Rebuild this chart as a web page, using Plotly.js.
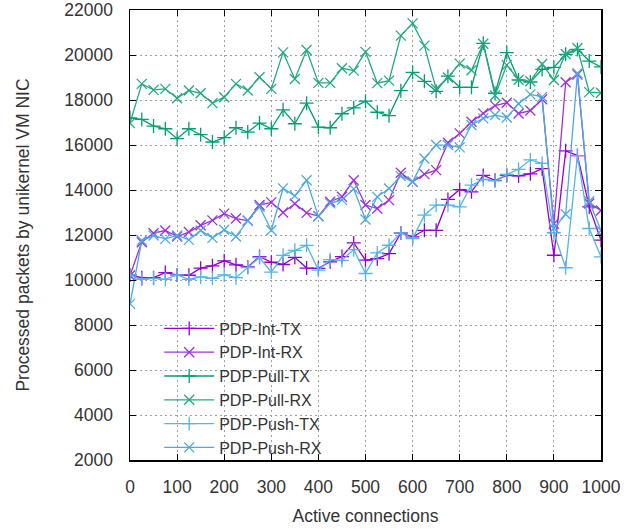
<!DOCTYPE html>
<html>
<head>
<meta charset="utf-8">
<script src="https://cdn.plot.ly/plotly-3.0.1.min.js"></script>
<style>html,body{margin:0;padding:0;background:#fff;}#chart{width:635px;height:529px;}</style>
</head>
<body>
<div id="chart"></div>
<script>
// Active connections (0..1000 step 25)
const connections = [0,25,50,75,100,125,150,175,200,225,250,275,300,325,350,375,400,425,450,475,500,525,550,575,600,625,650,675,700,725,750,775,800,825,850,875,900,925,950,975,1000];

const intTX = [10225,10105,10105,10330,10225,10210,10525,10630,10854,10674,10580,11040,10790,10690,11010,10530,10520,10810,11040,11650,10880,10950,11170,12090,11920,12210,12210,13580,14020,13920,14650,14430,14650,14630,14720,14950,11100,15740,15530,13250,11770];
const intRX = [10200,11680,12080,12200,11930,12130,12430,12650,12950,12730,12640,13330,13450,13000,13390,12985,12840,13480,13700,14430,13330,13177,13550,14765,14364,14706,14884,16100,16516,17035,17406,17750,17880,17400,17530,18030,12500,18786,19127,13400,13090];
const pullTX = [17210,17136,16840,16723,16280,16723,16458,16133,16325,16767,16575,16974,16723,17565,16945,17860,16797,16767,17388,17653,17950,17455,17304,18415,19230,18830,18386,19060,18565,18565,20518,18300,20110,18890,18800,19360,19450,20030,20250,19730,19470];
const pullRX = [16974,18716,18450,18495,18080,18420,18300,17860,18125,18716,18420,19010,18495,20118,18937,20220,18760,18760,19410,19306,20140,18750,18860,20860,21407,20415,18489,19000,19615,19320,20500,18200,19550,18900,18830,19600,18890,20044,20300,18350,18320];
const pushTX = [10225,10030,10075,10030,10225,10030,10135,10075,10225,10105,10555,11000,10352,11098,11320,11543,10440,10903,10873,11350,10290,11204,11544,12094,11842,12881,13326,13326,13252,14216,14468,14410,14690,14920,15340,15180,12100,10545,15530,12290,11030];
const pushRX = [8940,11753,11978,11828,11978,11783,12203,11873,12233,11933,12630,13255,12210,14074,13740,14430,12830,13404,13560,14050,12690,13696,14067,14617,14364,15403,15997,15997,15893,16887,17184,17330,17220,17830,18250,18140,12300,12920,19186,13500,12200];

const seriesNames = ["PDP-Int-TX","PDP-Int-RX","PDP-Pull-TX","PDP-Pull-RX","PDP-Push-TX","PDP-Push-RX"];
const xTickVals = [0,100,200,300,400,500,600,700,800,900,1000];
const xTickText = ["0","100","200","300","400","500","600","700","800","900","1000"];
const yTickVals = [2000,4000,6000,8000,10000,12000,14000,16000,18000,20000,22000];
const yTickText = ["2000","4000","6000","8000","10000","12000","14000","16000","18000","20000","22000"];

const colors = ["#9400d3","#a030dc","#009e73","#25a883","#56b4e9","#4aa9e3"];
const symbols = ["cross-thin","x-thin","cross-thin","x-thin","cross-thin","x-thin"];
const data = [intTX,intRX,pullTX,pullRX,pushTX,pushRX];

const traces = data.map((ys,i)=>({
  x: connections, y: ys, name: seriesNames[i],
  type: 'scatter', mode: 'lines+markers',
  line: {color: colors[i], width: 1.3},
  marker: {symbol: symbols[i], size: 10, color: colors[i], line: {color: colors[i], width: 1.3}}
}));

const fam = '"Liberation Sans", Arial, sans-serif';
const font = {family: fam, size: 17.5, color: '#333'};
const legFont = {family: fam, size: 16, color: '#333'};
const layout = {
  width: 635, height: 529,
  margin: {l: 130, r: 34, t: 10, b: 69},
  paper_bgcolor: '#fff', plot_bgcolor: '#fff',
  font: font,
  showlegend: true,
  legend: {x: 0.062, y: 0.33, xanchor: 'left', yanchor: 'top', bgcolor: 'rgba(255,255,255,0)', font: legFont, itemwidth: 50, tracegroupgap: 0},
  xaxis: {
    range: [0, 1000], tickvals: xTickVals, ticktext: xTickText, ticks: 'inside', ticklen: 6, tickcolor: '#000',
    showline: true, linecolor: '#000', linewidth: 1.5, mirror: 'ticks',
    showgrid: true, gridcolor: '#a0a0a0', griddash: '2px,3px', gridwidth: 1,
    zeroline: false, ticklabelstandoff: 10,
    title: {text: 'Active connections', font: font, standoff: 14}
  },
  yaxis: {
    range: [2000, 22000], tickvals: yTickVals, ticktext: yTickText, ticks: 'inside', ticklen: 6, tickcolor: '#000',
    showline: true, linecolor: '#000', linewidth: 1.5, mirror: 'ticks',
    showgrid: true, gridcolor: '#a0a0a0', griddash: '2px,3px', gridwidth: 1,
    zeroline: false, ticklabelstandoff: 12,
    title: {text: 'Processed packets by unikernel VM NIC', font: font, standoff: 30}
  }
};
Plotly.newPlot('chart', traces, layout, {displayModeBar: false, staticPlot: true});
</script>
</body>
</html>
